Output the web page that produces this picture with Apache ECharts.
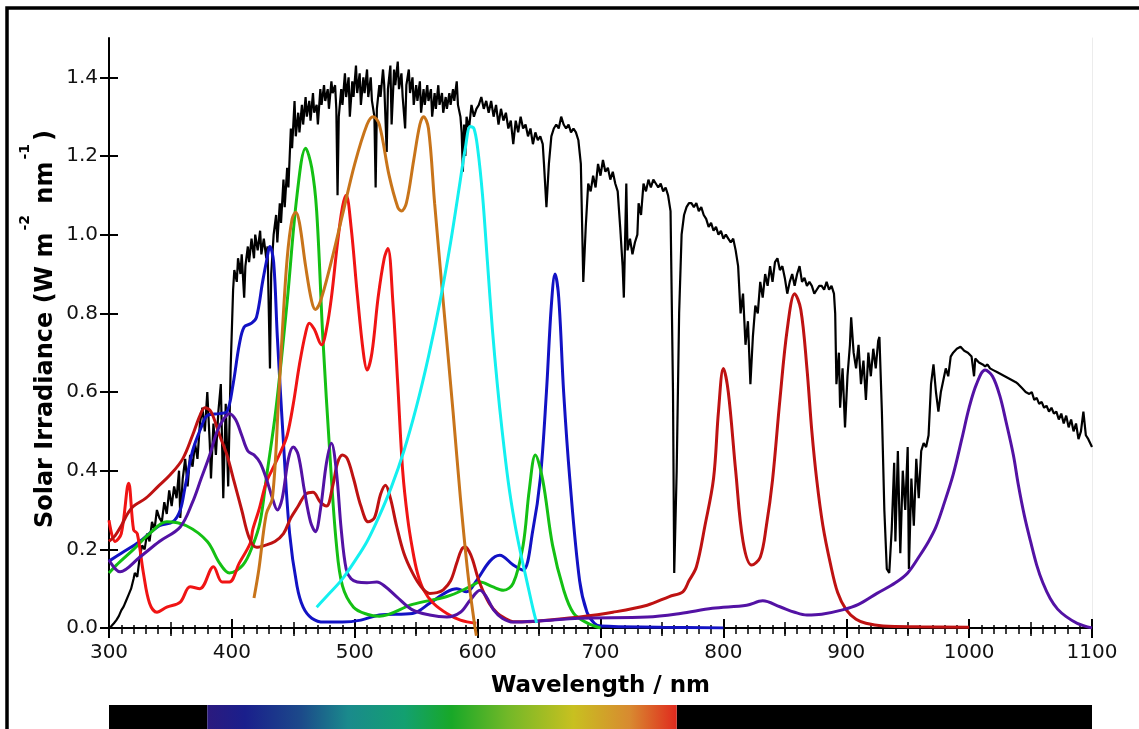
<!DOCTYPE html>
<html>
<head>
<meta charset="utf-8">
<title>Solar Irradiance and Pigment Absorption</title>
<script src="https://cdn.jsdelivr.net/npm/echarts@6/dist/echarts.min.js"></script>
<style>
  html, body { margin: 0; padding: 0; background: #ffffff; }
  #chart { width: 1139px; height: 729px; }
</style>
</head>
<body>
<div id="chart"></div>
<script>
// Wavelength axis (nm) and irradiance axis (W m-2 nm-1)
const xTicks = [300, 400, 500, 600, 700, 800, 900, 1000, 1100];
const yTicks = [0.0, 0.2, 0.4, 0.6, 0.8, 1.0, 1.2, 1.4];

// Solar spectral irradiance at ground level, [wavelength, value]
const solarSpectrum = [
  [300,0.00],[302,0.005],[304,0.012],[306,0.02],[308,0.03],[310,0.045],[312,0.055],[314,0.07],[316,0.085],[318,0.10],
  [320,0.125],[321,0.14],[323,0.13],[325,0.18],[327,0.21],[329,0.20],[331,0.24],[333,0.22],[335,0.27],[337,0.25],
  [339,0.30],[341,0.28],[343,0.27],[345,0.32],[347,0.29],[349,0.35],[351,0.31],[353,0.36],[355,0.33],[357,0.40],
  [358,0.28],[360,0.38],[362,0.43],[364,0.36],[366,0.44],[368,0.41],[370,0.47],[372,0.43],[374,0.52],[376,0.56],
  [378,0.50],[380,0.60],[382,0.47],[383,0.38],[385,0.52],[387,0.44],[389,0.55],[391,0.62],[393,0.33],[395,0.57],
  [397,0.36],[399,0.66],[401,0.86],[402,0.91],[404,0.88],[405,0.94],[407,0.90],[408,0.95],[410,0.84],[411,0.92],
  [413,0.97],[414,0.93],[416,0.99],[418,0.94],[419,1.00],[421,0.96],[423,1.01],[424,0.95],[426,0.99],[428,0.94],
  [429,0.97],[431,0.66],[432,0.90],[434,1.00],[436,1.05],[437,0.98],[439,1.08],[440,1.03],[442,1.14],[443,1.07],
  [445,1.17],[446,1.12],[448,1.27],[449,1.22],[451,1.34],[452,1.25],[454,1.31],[455,1.26],[457,1.33],[458,1.28],
  [460,1.35],[461,1.30],[463,1.34],[464,1.29],[466,1.36],[467,1.31],[469,1.33],[470,1.28],[472,1.37],[473,1.33],
  [475,1.38],[476,1.34],[478,1.37],[479,1.32],[481,1.39],[482,1.36],[484,1.38],[485,1.32],[486,1.10],[487,1.30],
  [489,1.37],[490,1.33],[492,1.41],[493,1.35],[495,1.40],[496,1.30],[498,1.39],[499,1.35],[501,1.43],[502,1.36],
  [504,1.41],[505,1.33],[507,1.40],[508,1.36],[510,1.42],[511,1.35],[513,1.40],[514,1.34],[516,1.30],[517,1.12],
  [518,1.32],[520,1.38],[521,1.35],[523,1.42],[524,1.38],[526,1.21],[527,1.37],[529,1.43],[530,1.28],[532,1.42],
  [533,1.38],[535,1.44],[536,1.37],[538,1.41],[539,1.35],[541,1.27],[542,1.38],[544,1.42],[545,1.36],[547,1.40],
  [548,1.33],[550,1.38],[551,1.34],[553,1.39],[554,1.31],[556,1.37],[557,1.33],[559,1.38],[560,1.34],[562,1.37],
  [563,1.30],[565,1.36],[566,1.32],[568,1.38],[569,1.33],[571,1.36],[572,1.31],[574,1.35],[575,1.32],[577,1.36],
  [578,1.33],[580,1.37],[581,1.34],[583,1.39],[584,1.33],[586,1.30],[587,1.26],[588,1.16],[589,1.28],[590,1.20],
  [591,1.30],[593,1.27],[595,1.33],[597,1.30],[599,1.32],[601,1.33],[603,1.35],[605,1.32],[607,1.34],[609,1.31],
  [611,1.34],[613,1.30],[615,1.33],[617,1.28],[619,1.32],[621,1.29],[623,1.31],[625,1.27],[627,1.29],[629,1.23],
  [631,1.29],[633,1.26],[635,1.30],[637,1.27],[639,1.28],[641,1.25],[643,1.27],[645,1.23],[647,1.26],[649,1.24],
  [651,1.25],[653,1.23],[654,1.18],[656,1.07],[658,1.18],[660,1.25],[662,1.27],[664,1.28],[666,1.27],[668,1.30],
  [670,1.28],[672,1.27],[674,1.28],[676,1.26],[678,1.27],[680,1.26],[682,1.24],[684,1.18],[686,0.88],[688,1.02],
  [690,1.13],[692,1.11],[694,1.15],[696,1.12],[698,1.18],[700,1.15],[702,1.19],[704,1.16],[706,1.17],[708,1.14],
  [710,1.16],[712,1.13],[714,1.11],[716,1.02],[718,0.92],[719,0.84],[721,1.13],[722,0.96],[724,0.99],[726,0.95],
  [728,0.98],[730,1.00],[731,1.08],[733,1.05],[735,1.13],[737,1.11],[739,1.14],[741,1.12],[743,1.14],[745,1.13],
  [747,1.12],[749,1.13],[751,1.11],[753,1.12],[755,1.10],[757,1.06],[759,0.60],[760,0.14],[762,0.40],[764,0.80],
  [766,1.00],[768,1.05],[770,1.07],[772,1.08],[774,1.08],[776,1.07],[778,1.08],[780,1.06],[782,1.07],[784,1.05],
  [786,1.04],[788,1.02],[790,1.03],[792,1.01],[794,1.02],[796,1.00],[798,1.01],[800,0.99],[802,1.00],[804,0.99],
  [806,0.98],[808,0.99],[810,0.96],[812,0.92],[814,0.80],[816,0.85],[818,0.72],[820,0.78],[822,0.62],[824,0.74],
  [826,0.82],[828,0.80],[830,0.88],[832,0.84],[834,0.90],[836,0.87],[838,0.92],[840,0.88],[842,0.93],[844,0.94],
  [846,0.91],[848,0.92],[850,0.89],[852,0.85],[854,0.88],[856,0.90],[858,0.87],[860,0.90],[862,0.92],[864,0.88],
  [866,0.89],[868,0.87],[870,0.88],[872,0.87],[874,0.85],[876,0.86],[878,0.87],[880,0.87],[882,0.86],[884,0.88],
  [886,0.86],[888,0.87],[890,0.85],[891,0.80],[892,0.62],[894,0.70],[895,0.56],[897,0.66],[899,0.51],[901,0.64],
  [903,0.72],[904,0.79],[906,0.70],[908,0.66],[910,0.72],[912,0.62],[914,0.68],[916,0.58],[918,0.70],[920,0.64],
  [922,0.71],[924,0.66],[926,0.73],[927,0.74],[929,0.55],[931,0.30],[933,0.15],[935,0.14],[937,0.25],[939,0.42],
  [940,0.22],[942,0.45],[944,0.19],[946,0.40],[948,0.30],[950,0.46],[951,0.15],[953,0.38],[955,0.26],[957,0.43],
  [959,0.33],[961,0.45],[963,0.47],[965,0.46],[967,0.49],[969,0.62],[971,0.67],[973,0.60],[975,0.55],[977,0.60],
  [979,0.63],[981,0.66],[983,0.64],[985,0.69],[987,0.70],[990,0.71],[993,0.715],[996,0.705],[999,0.70],[1002,0.69],
  [1004,0.64],[1005,0.685],[1008,0.675],[1011,0.67],[1013,0.665],[1015,0.67],[1017,0.66],[1020,0.655],[1023,0.65],
  [1026,0.645],[1029,0.64],[1032,0.635],[1035,0.63],[1038,0.625],[1040,0.62],[1043,0.61],[1046,0.60],[1049,0.595],
  [1051,0.60],[1053,0.58],[1055,0.585],[1057,0.57],[1059,0.575],[1061,0.56],[1063,0.565],[1065,0.55],[1067,0.56],
  [1069,0.545],[1071,0.55],[1073,0.53],[1075,0.545],[1077,0.52],[1079,0.54],[1081,0.51],[1083,0.53],[1085,0.50],
  [1087,0.52],[1089,0.48],[1091,0.50],[1093,0.55],[1095,0.49],[1097,0.48],[1100,0.46]
];

// Chlorophyll a
const chlA = [
  [300,0.17],[310,0.19],[325,0.22],[341,0.26],[352,0.27],[358,0.30],[362,0.36],[368,0.45],[375,0.51],[380,0.54],
  [390,0.545],[396,0.55],[401,0.62],[406,0.72],[410,0.765],[416,0.775],[420,0.79],[425,0.88],[428,0.93],[431,0.97],
  [434,0.93],[437,0.74],[442,0.47],[447,0.24],[453,0.107],[458,0.053],[465,0.025],[475,0.015],[490,0.015],[505,0.02],
  [520,0.033],[547,0.037],[561,0.063],[575,0.092],[583,0.10],[591,0.092],[599,0.12],[610,0.17],[618,0.185],[629,0.16],
  [637,0.147],[645,0.25],[651,0.38],[656,0.60],[660,0.82],[663,0.90],[666,0.84],[670,0.60],[675,0.38],[683,0.12],
  [689,0.04],[695,0.012],[700,0.005],[750,0.002],[800,0.0]
];

// Chlorophyll b
const chlB = [
  [300,0.14],[306,0.16],[320,0.20],[333,0.24],[347,0.27],[363,0.26],[380,0.22],[390,0.165],[398,0.14],[409,0.16],
  [417,0.21],[423,0.27],[428,0.38],[436,0.56],[445,0.83],[453,1.10],[460,1.22],[465,1.17],[469,1.06],[474,0.74],
  [480,0.43],[485,0.215],[490,0.107],[499,0.053],[510,0.035],[520,0.03],[547,0.06],[575,0.08],[594,0.105],[602,0.117],
  [612,0.105],[621,0.096],[629,0.114],[637,0.21],[642,0.35],[647,0.44],[653,0.376],[661,0.21],[670,0.097],[678,0.038],
  [689,0.013],[700,0.0]
];

// Carotenoid-type pigment with three bands
const carotenoid = [
  [300,0.274],[305,0.22],[310,0.24],[316,0.368],[320,0.25],[323,0.24],[328,0.14],[333,0.063],[339,0.04],[347,0.053],
  [358,0.066],[366,0.105],[374,0.10],[385,0.156],[392,0.117],[398,0.117],[406,0.165],[415,0.216],[417,0.25],[422,0.30],
  [428,0.37],[434,0.41],[440,0.45],[445,0.49],[450,0.57],[455,0.67],[460,0.75],[463,0.775],[467,0.76],[473,0.72],
  [477,0.76],[481,0.84],[486,0.98],[490,1.07],[493,1.10],[497,1.02],[502,0.85],[507,0.70],[510,0.656],[514,0.70],
  [519,0.84],[524,0.94],[527,0.965],[531,0.83],[535,0.62],[539,0.40],[543,0.28],[547,0.20],[551,0.14],[556,0.097],
  [564,0.063],[575,0.037],[586,0.02],[599,0.012]
];

// Bacteriochlorophyll a (light-harvesting complex)
const bchlA = [
  [300,0.22],[305,0.235],[310,0.26],[315,0.29],[320,0.31],[330,0.33],[340,0.36],[350,0.39],[360,0.43],[368,0.49],
  [374,0.54],[378,0.56],[383,0.55],[390,0.49],[396,0.44],[402,0.37],[408,0.30],[414,0.23],[420,0.205],[427,0.21],
  [435,0.22],[442,0.24],[448,0.28],[454,0.31],[460,0.34],[466,0.345],[472,0.32],[477,0.31],[482,0.36],[486,0.42],
  [490,0.44],[494,0.43],[499,0.38],[505,0.31],[511,0.27],[516,0.28],[521,0.34],[525,0.363],[529,0.33],[534,0.26],
  [540,0.19],[547,0.14],[554,0.105],[561,0.088],[567,0.09],[572,0.097],[578,0.12],[583,0.165],[587,0.20],[590,0.206],
  [593,0.195],[596,0.173],[600,0.13],[604,0.097],[610,0.06],[616,0.038],[622,0.025],[629,0.016],[640,0.016],[656,0.02],
  [683,0.028],[710,0.04],[738,0.058],[756,0.08],[767,0.092],[772,0.12],[778,0.155],[785,0.26],[792,0.38],[796,0.55],
  [800,0.66],[804,0.60],[810,0.40],[816,0.22],[823,0.16],[830,0.18],[835,0.26],[840,0.376],[846,0.58],[852,0.76],
  [858,0.85],[863,0.81],[868,0.66],[872,0.50],[876,0.376],[881,0.26],[887,0.165],[893,0.09],[900,0.046],[908,0.022],
  [916,0.012],[930,0.005],[960,0.003],[1000,0.002]
];

// Bacteriochlorophyll b
const bchlB = [
  [300,0.173],[309,0.143],[325,0.18],[341,0.22],[358,0.257],[368,0.32],[375,0.38],[382,0.44],[388,0.50],[393,0.53],
  [398,0.545],[403,0.53],[408,0.49],[413,0.45],[418,0.44],[423,0.42],[428,0.38],[433,0.33],[437,0.30],[441,0.33],
  [446,0.43],[450,0.46],[454,0.44],[459,0.35],[464,0.27],[468,0.245],[472,0.30],[477,0.42],[481,0.47],[485,0.40],
  [489,0.25],[493,0.15],[497,0.125],[502,0.117],[510,0.115],[518,0.117],[525,0.105],[534,0.08],[547,0.046],[561,0.033],
  [575,0.028],[586,0.04],[594,0.071],[602,0.096],[607,0.08],[613,0.046],[620,0.025],[629,0.015],[650,0.018],[683,0.025],
  [738,0.028],[765,0.037],[791,0.05],[819,0.058],[832,0.069],[846,0.054],[858,0.04],[868,0.033],[880,0.035],[897,0.046],
  [910,0.06],[925,0.088],[940,0.115],[950,0.14],[960,0.185],[967,0.22],[973,0.257],[980,0.32],[987,0.39],[994,0.48],
  [1000,0.56],[1006,0.62],[1013,0.656],[1019,0.64],[1025,0.59],[1030,0.525],[1036,0.44],[1040,0.365],[1045,0.285],
  [1050,0.22],[1055,0.16],[1060,0.115],[1066,0.075],[1072,0.048],[1079,0.029],[1088,0.012],[1100,0.0]
];

// Peridinin-type carotenoid (two-humped band)
const peridinin = [
  [418,0.076],[422,0.15],[428,0.29],[433,0.33],[438,0.58],[441,0.75],[445,0.94],[449,1.04],[452,1.057],[455,1.03],
  [460,0.92],[465,0.83],[468,0.81],[472,0.83],[480,0.92],[490,1.05],[500,1.18],[510,1.28],[515,1.30],[520,1.28],
  [528,1.15],[535,1.07],[538,1.06],[542,1.08],[548,1.19],[553,1.28],[556,1.30],[560,1.27],[565,1.08],[572,0.83],
  [580,0.55],[586,0.33],[592,0.14],[597,0.02],[599,-0.02]
];

// Phycocyanin-type band
const phycocyanin = [
  [469,0.053],[480,0.09],[490,0.125],[500,0.17],[510,0.22],[520,0.285],[530,0.36],[540,0.45],[550,0.56],[560,0.69],
  [570,0.84],[578,0.98],[585,1.12],[590,1.22],[594,1.275],[597,1.27],[600,1.22],[604,1.10],[608,0.93],[612,0.76],
  [616,0.62],[620,0.50],[625,0.37],[630,0.27],[635,0.19],[640,0.12],[645,0.05],[648,0.013]
];

// Visible colour band stops (fraction along 380–762 nm)
const spectrumStops = [
  [0.00, '#2b1a7e'], [0.08, '#1a1f8c'], [0.20, '#1c4a8a'], [0.30, '#1a8a8c'], [0.42, '#13a070'],
  [0.52, '#18a828'], [0.64, '#72b828'], [0.78, '#c8c020'], [0.90, '#d88a30'], [1.00, '#e02a1e']
];

const curveColors = {
  solar: '#000000', chlA: '#1212c4', chlB: '#14c014', carotenoid: '#f01414',
  bchlA: '#be1212', bchlB: '#5312a4', peridinin: '#c8741a', phycocyanin: '#14f0f0'
};

const labelFont = 'DejaVu Sans, sans-serif';
const GRID = { left: 109, right: 47, top: 38, bottom: 101 };

function curve(name, data, color, extra) {
  return Object.assign({
    name, type: 'line', data, showSymbol: false, symbol: 'none', smooth: 0.35,
    lineStyle: { color, width: 3 }, xAxisIndex: 0, yAxisIndex: 0, z: 3, silent: true
  }, extra || {});
}

const xBase = { type: 'value', min: 300, max: 1100, position: 'bottom', splitLine: { show: false } };
const yBase = { type: 'value', min: 0, max: 1.5, interval: 0.2, position: 'left', splitLine: { show: false } };

const chart = echarts.init(document.getElementById('chart'), null, { renderer: 'canvas' });

chart.setOption({
  animation: false,
  backgroundColor: '#ffffff',
  grid: GRID,
  xAxis: [
    Object.assign({}, xBase, {
      interval: 100,
      axisLine: { show: true, lineStyle: { color: '#000', width: 2 } },
      axisTick: { show: true, length: 10, lineStyle: { color: '#000', width: 2 } },
      minorTick: { show: true, splitNumber: 10, length: 6, lineStyle: { color: '#000', width: 1.5 } },
      axisLabel: { show: true, margin: 15, fontFamily: labelFont, fontSize: 20, color: '#111',
                   customValues: xTicks, formatter: v => String(v) }
    }),
    Object.assign({}, xBase, {
      interval: 100,
      axisLine: { show: false },
      axisTick: { show: true, inside: true, length: 9, lineStyle: { color: '#000', width: 2 } },
      minorTick: { show: true, splitNumber: 10, length: 3, lineStyle: { color: '#000', width: 1.5 } },
      axisLabel: { show: false }
    }),
    Object.assign({}, xBase, {
      interval: 50,
      axisLine: { show: false },
      axisTick: { show: true, length: 8, lineStyle: { color: '#000', width: 1.5 } },
      axisLabel: { show: false }
    }),
    Object.assign({}, xBase, {
      interval: 50,
      axisLine: { show: false },
      axisTick: { show: true, inside: true, length: 6, lineStyle: { color: '#000', width: 1.5 } },
      axisLabel: { show: false }
    })
  ],
  yAxis: [
    Object.assign({}, yBase, {
      axisLine: { show: true, lineStyle: { color: '#000', width: 2 } },
      axisTick: { show: true, length: 9, customValues: yTicks, lineStyle: { color: '#000', width: 2 } },
      axisLabel: { show: true, margin: 11, fontFamily: labelFont, fontSize: 20, color: '#111',
                   customValues: yTicks, formatter: v => v.toFixed(1) }
    }),
    Object.assign({}, yBase, {
      axisLine: { show: false },
      axisTick: { show: true, inside: true, length: 9, customValues: yTicks, lineStyle: { color: '#000', width: 2 } },
      axisLabel: { show: false }
    }),
    Object.assign({}, yBase, {
      position: 'right',
      axisLine: { show: true, lineStyle: { color: '#ececec', width: 1 } },
      axisTick: { show: false },
      axisLabel: { show: false }
    })
  ],
  series: [
    curve('Solar irradiance', solarSpectrum, curveColors.solar, { smooth: false, lineStyle: { color: '#000', width: 2.2 }, z: 2 }),
    curve('Chlorophyll a', chlA, curveColors.chlA),
    curve('Chlorophyll b', chlB, curveColors.chlB),
    curve('Carotenoid', carotenoid, curveColors.carotenoid),
    curve('Bacteriochlorophyll a', bchlA, curveColors.bchlA),
    curve('Bacteriochlorophyll b', bchlB, curveColors.bchlB),
    curve('Peridinin', peridinin, curveColors.peridinin, { clip: false }),
    curve('Phycocyanin', phycocyanin, curveColors.phycocyanin)
  ]
});

// Axis titles, page frame and the visible colour band below the axis
function addDecorations() {
  const px = nm => chart.convertToPixel({ xAxisIndex: 0 }, nm);
  const x300 = px(300), x380 = px(380), x762 = px(762), x1100 = px(1100);
  const plotMid = (x300 + x1100) / 2;
  const yMid = chart.convertToPixel({ yAxisIndex: 0 }, 0.76);

  chart.setOption({
    graphic: [
      {
        type: 'polyline', silent: true,
        shape: { points: [[7, 740], [7, 8], [1150, 8]] },
        style: { stroke: '#000', lineWidth: 3.5, fill: null }
      },
      {
        type: 'text', silent: true, x: plotMid, y: 686,
        style: {
          text: 'Wavelength / nm', fontFamily: labelFont, fontWeight: 'bold', fontSize: 23,
          fill: '#000', align: 'center', verticalAlign: 'middle'
        }
      },
      {
        type: 'text', silent: true, x: 38, y: yMid, rotation: Math.PI / 2,
        style: {
          text: '{m|Solar Irradiance (W m}{s|-2}{m| nm}{s|-1}{m|)}',
          align: 'center', verticalAlign: 'middle', fill: '#000',
          rich: {
            m: { fontFamily: labelFont, fontWeight: 'bold', fontSize: 24, lineHeight: 40, verticalAlign: 'bottom', fill: '#000' },
            s: { fontFamily: labelFont, fontWeight: 'bold', fontSize: 14, lineHeight: 14, verticalAlign: 'top', fill: '#000', padding: [0, 3, 0, 2] }
          }
        }
      },
      { type: 'rect', silent: true, shape: { x: x300, y: 705, width: x380 - x300, height: 30 }, style: { fill: '#000' } },
      { type: 'rect', silent: true, shape: { x: x762, y: 705, width: x1100 - x762, height: 30 }, style: { fill: '#000' } },
      {
        type: 'rect', silent: true, shape: { x: x380, y: 705, width: x762 - x380, height: 30 },
        style: {
          fill: new echarts.graphic.LinearGradient(0, 0, 1, 0,
            spectrumStops.map(s => ({ offset: s[0], color: s[1] })))
        }
      }
    ]
  });
}
addDecorations();
</script>
</body>
</html>
